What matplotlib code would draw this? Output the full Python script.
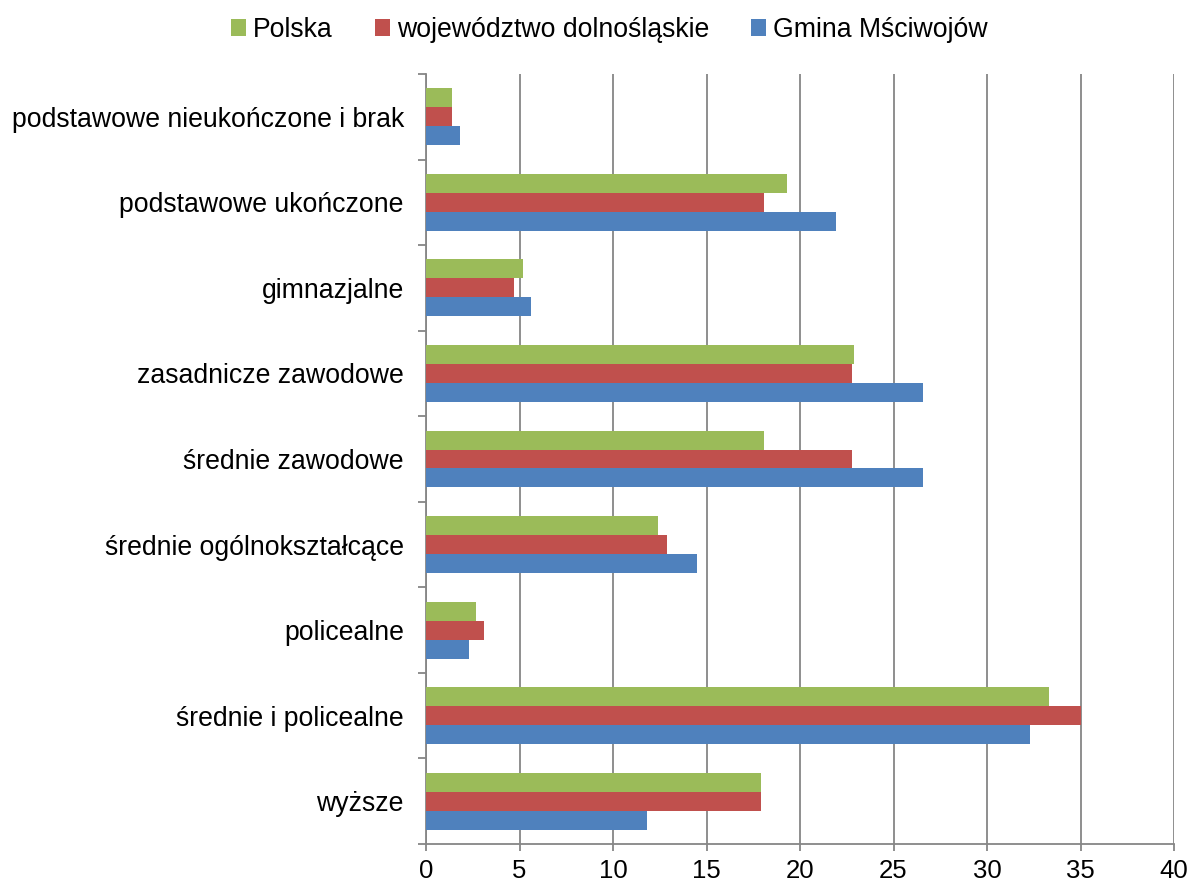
import numpy as np
import matplotlib
matplotlib.use("Agg")
import matplotlib.pyplot as plt

plt.rcParams['font.family'] = ['Liberation Sans', 'DejaVu Sans']

# education levels, top to bottom
categories = ['podstawowe nieukończone i brak', 'podstawowe ukończone', 'gimnazjalne',
              'zasadnicze zawodowe', 'średnie zawodowe', 'średnie ogólnokształcące',
              'policealne', 'średnie i policealne', 'wyższe']

polska = [1.4, 19.3, 5.2, 22.9, 18.1, 12.4, 2.7, 33.3, 17.9]
dolnoslaskie = [1.4, 18.1, 4.7, 22.8, 22.8, 12.9, 3.1, 35.0, 17.9]
msciwojow = [1.8, 21.9, 5.6, 26.6, 26.6, 14.5, 2.3, 32.3, 11.8]

series_names = ['Polska', 'województwo dolnośląskie', 'Gmina Mściwojów']
colors = ['#9BBB59', '#C0504D', '#4F81BD']

fig = plt.figure(figsize=(11.95, 8.85), dpi=100)
ax = fig.add_axes([426 / 1195, 1 - 844 / 885, 748 / 1195, (844 - 74) / 885])

y = np.arange(len(categories))
h = 0.222
for k, (vals, name, col) in enumerate(zip([polska, dolnoslaskie, msciwojow], series_names, colors)):
    ax.barh(y + (k - 1) * h, vals, height=h, color=col, label=name, zorder=3)

ax.set_ylim(len(categories) - 0.5, -0.5)
ax.set_xlim(0, 40)
ax.set_xticks(range(0, 41, 5))
ax.xaxis.grid(True, color='#868686', linewidth=1.3, zorder=0)

# category labels centred, tick marks on the band boundaries
ax.set_yticks(y)
ax.set_yticklabels(categories, fontsize=19.2)
ax.set_yticks(np.arange(-0.5, len(categories), 1), minor=True)
ax.tick_params(axis='y', which='major', length=0, pad=16)
ax.tick_params(axis='y', which='minor', length=6, width=1.3, color='#868686', direction='out')
ax.tick_params(axis='x', length=5, width=1.3, color='#868686', labelsize=18.5, pad=6)

for s in ['top', 'right']:
    ax.spines[s].set_visible(False)
for s in ['left', 'bottom']:
    ax.spines[s].set_color('#868686')
    ax.spines[s].set_linewidth(1.3)

fig.legend(loc='upper center', bbox_to_anchor=(0.51, 1.008), ncol=3, frameon=False,
           fontsize=19.2, handlelength=0.55, handleheight=0.55, handletextpad=0.25,
           columnspacing=1.6)

fig.savefig('out.png', dpi=100)
